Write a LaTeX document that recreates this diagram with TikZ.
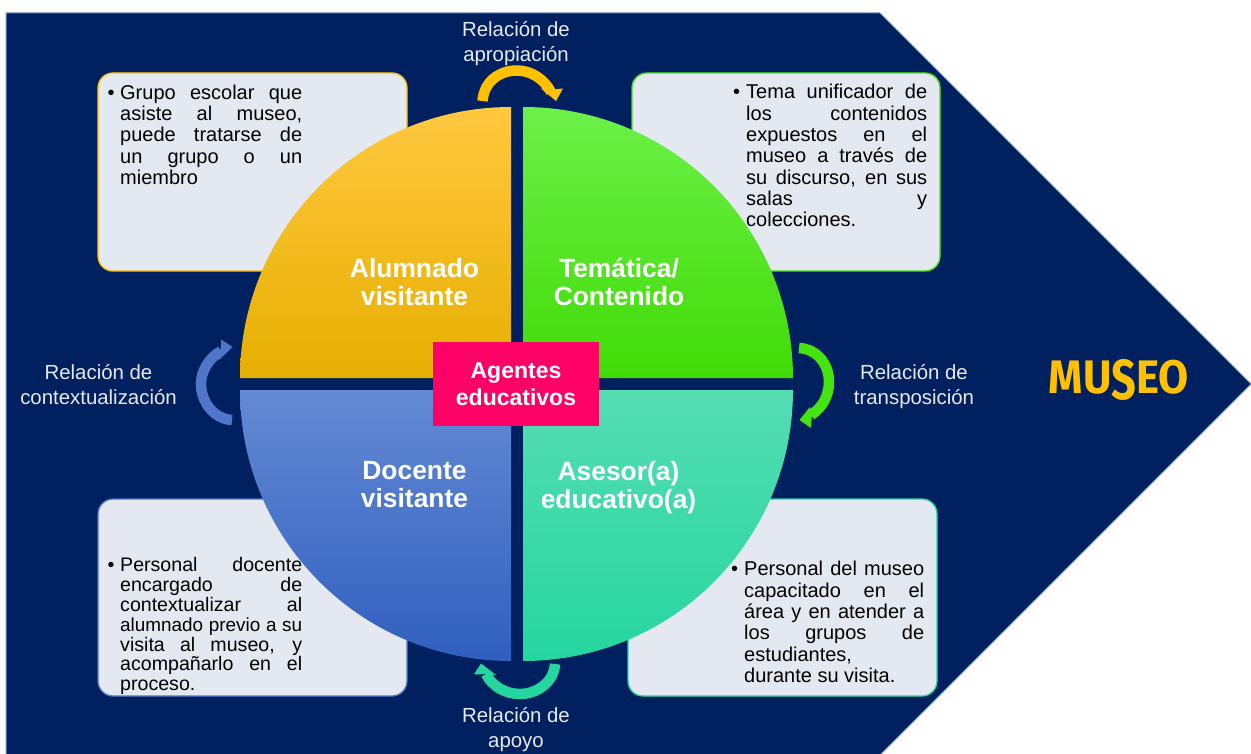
\documentclass[tikz,border=0pt]{standalone}
\usepackage{fontspec}
\usepackage{graphicx}
\setmainfont{Liberation Sans}
\newfontfamily\musfont{Fira Sans}
\definecolor{navy}{HTML}{002060}
\definecolor{edgeblue}{HTML}{6F9BC0}
\definecolor{boxfill}{HTML}{E4E8F0}
\definecolor{gold}{HTML}{FFC000}
\definecolor{golda}{HTML}{FFC840}
\definecolor{goldb}{HTML}{E6AF00}
\definecolor{lime}{HTML}{45E40F}
\definecolor{limea}{HTML}{6DF049}
\definecolor{limeb}{HTML}{50EE18}
\definecolor{limec}{HTML}{40DC06}
\definecolor{bluea}{HTML}{4F76C8}
\definecolor{blueb}{HTML}{648AD4}
\definecolor{bluec}{HTML}{2F5FBE}
\definecolor{teal}{HTML}{25D69F}
\definecolor{teala}{HTML}{55DDB3}
\definecolor{labelc}{HTML}{E6EAF0}
\definecolor{pinkc}{HTML}{FF0066}
\tikzset{
 infobox/.style={fill=boxfill,line width=1.3pt,rounded corners=15pt},
 quadlabel/.style={text=white,font=\bfseries\fontsize{26.4}{28}\selectfont,align=center},
 rellabel/.style={text=labelc,font=\fontsize{20.4}{25}\selectfont,align=center},
 bodytext/.style={anchor=north west,inner sep=0pt,text=black,text width=#1,align=justify,
   font=\fontsize{20}{21.33}\selectfont},
 bend/.style={line width=10.5pt,draw=#1},
}
\newcommand{\bul}[1]{\hangindent=#1\hangafter=1\noindent\makebox[#1][l]{•}\emergencystretch=200pt\tolerance=9999\hbadness=10000\hfuzz=20pt }
\begin{document}
\begin{tikzpicture}[x=1pt,y=-1pt]
\path[use as bounding box] (0,0) rectangle (1251,754);
\fill[white] (0,0) rectangle (1251,754);
\path[fill=navy,draw=edgeblue,line width=1pt] (6,13) -- (880,13) -- (1251,384) -- (880,755) -- (6,755) -- cycle;
% boxes
\path[infobox,draw=gold] (98,73) rectangle (407,271);
\path[infobox,draw=lime] (632,73) rectangle (940,271);
\path[infobox,draw=bluea] (98,499) rectangle (407,696);
\path[infobox,draw=teal] (628,499) rectangle (937,696);
% quadrants
\shade[top color=golda,middle color=gold,bottom color=goldb]
 (511,378) -- (240,378) .. controls (240,228.3) and (361.3,107) .. (511,107) -- cycle;
\shade[top color=limea,middle color=limeb,bottom color=limec]
 (523,378) -- (793,378) .. controls (793,228.3) and (672.7,107) .. (523,107) -- cycle;
\shade[top color=blueb,bottom color=bluec]
 (511,390) -- (240,390) .. controls (240,539.7) and (361.3,661) .. (511,661) -- cycle;
\shade[top color=teala,bottom color=teal]
 (523,390) -- (793,390) .. controls (793,539.7) and (672.7,661) .. (523,661) -- cycle;
% curved arrows
\draw[bend=gold] (482.5,101) .. controls (484,81) and (500,70.5) .. (517,70.5) .. controls (531,70.5) and (544,79) .. (551,92);
\fill[gold] (541,88.5) -- (549,90) -- (563,88.5) -- (556,101) -- cycle;
\draw[bend=lime] (799,348) .. controls (817,349) and (829,364) .. (829,382) .. controls (829,396) and (822,408) .. (811,415);
\fill[lime] (810,407) -- (812,413) -- (811,428) -- (799.5,420) -- cycle;
\draw[bend=bluea] (232,420) .. controls (214,419) and (201,402) .. (201,384) .. controls (201,371) and (209,358) .. (221,351);
\fill[bluea] (221,339.5) -- (221,345) -- (219,360) -- (232.5,347) -- cycle;
\draw[bend=teal] (555,664) .. controls (554,682) and (537,694) .. (520,694) .. controls (505,694) and (492,686) .. (486,674);
\fill[teal] (474,674.5) -- (481,663.5) -- (496,675) -- (488,674) -- cycle;
% centre
\node[fill=pinkc,minimum width=166pt,minimum height=84pt,inner sep=0pt,text=white,align=center,
  font=\bfseries\fontsize{23}{27}\selectfont] (centre) at (516,384) {Agentes\\educativos};
% quadrant labels
\node[quadlabel] (alumnado) at (414.5,282) {Alumnado\\visitante};
\node[quadlabel] (tematica) at (619,282) {Temática/\\Contenido};
\node[quadlabel] (docente) at (414.5,485) {Docente\\visitante};
\node[quadlabel] (asesor) at (618.5,487.5) {Asesor(a)\\educativo(a)};
% relation labels
\node[rellabel] (rtop) at (516,43.5) {Relación de\\apropiación};
\node[rellabel] (rleft) at (98.5,385) {Relación de\\contextualización};
\node[rellabel] (rright) at (914,386.5) {Relación de\\transposición};
\node[rellabel] (rbottom) at (516,729.5) {Relación de\\apoyo};
% museo
\node[text=gold,inner sep=0pt,font=\musfont\bfseries\fontsize{47}{47}\selectfont] (museo) at (1119,380)
 {\scalebox{0.93}[1]{MU}\raisebox{-6pt}{\scalebox{0.92}[1.2]{S}}\scalebox{0.93}[1]{EO}};
% body text
\node[bodytext=194.5pt] (t1) at (107.5,84.5) {\bul{12.5pt}Grupo escolar que\linebreak asiste al museo,\linebreak puede tratarse de\linebreak un grupo o un\linebreak miembro\par};
\node[bodytext=194pt] (t2) at (733,84) {\bul{13pt}Tema unificador de\linebreak los contenidos\linebreak expuestos en el\linebreak museo a través de\linebreak su discurso, en sus\linebreak salas y\linebreak colecciones.\par};
\node[bodytext=194.5pt,font=\fontsize{19.6}{19.8}\selectfont] (t3) at (107.5,557.5) {\bul{12.5pt}Personal docente\linebreak encargado de\linebreak contextualizar al\linebreak {\fontsize{18.9}{19.8}\selectfont alumnado previo a su}\linebreak visita al museo, y\linebreak acompañarlo en el\linebreak proceso.\par};
\node[bodytext=193pt] (t4) at (731,561) {\bul{13pt}Personal del museo\linebreak capacitado en el\linebreak área y en atender a\linebreak los grupos de\linebreak estudiantes,\hfill\break durante su visita.\par};
\end{tikzpicture}
\end{document}
